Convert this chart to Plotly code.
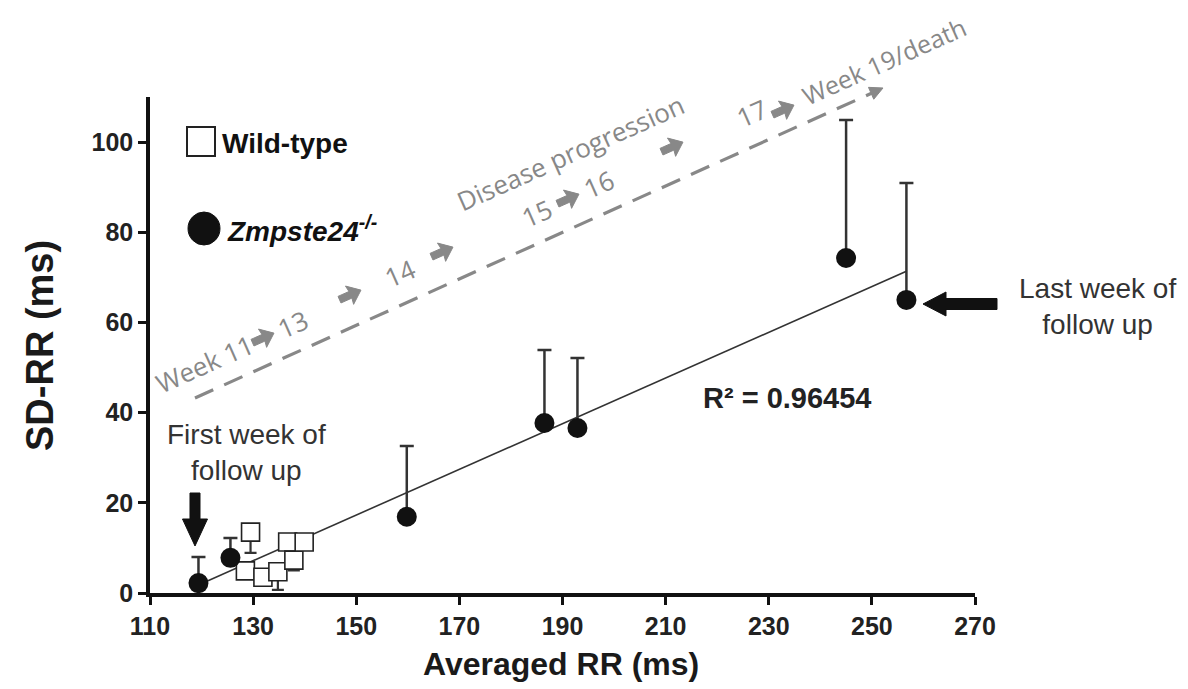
import math
import numpy as np
import plotly.graph_objects as go

# ---- data ----
zmp_rr = [119.4, 125.6, 159.8, 186.5, 192.9, 245.0, 256.7]
zmp_sd = [2.2, 7.8, 16.9, 37.7, 36.6, 74.3, 65.0]
zmp_err_up = [5.8, 4.4, 15.7, 16.2, 15.5, 30.6, 25.9]

wt_rr = [128.5, 129.5, 131.9, 134.8, 136.7, 137.9, 139.9]
wt_sd = [4.9, 13.5, 3.5, 4.7, 11.3, 7.3, 11.3]
wt_err_down = [0.0, 4.6, 0.0, 4.0, 0.0, 2.3, 0.0]

x_ticks = [110, 130, 150, 170, 190, 210, 230, 250, 270]
y_ticks = [0, 20, 40, 60, 80, 100]
r2_label = "R² = 0.96454"

# ---- layout geometry (screen pixels; the page has an 8px body margin) ----
W, H = 1188, 689
OFF = 8
PL, PT, PR, PB = 150, 97, 975, 593      # plot-area edges on screen
PW, PH = PR - PL, PB - PT
ML, MT = PL - OFF, PT - OFF
MR, MB = W - ML - PW, H - MT - PH


def px(x):
    return (x - PL) / PW


def py(y):
    return (PB - y) / PH


def poly(points):
    return "M " + " L ".join(f"{px(a):.5f},{py(b):.5f}" for a, b in points) + " Z"


fig = go.Figure()

# regression line from the data
slope, intercept = np.polyfit(zmp_rr, zmp_sd, 1)
fx = np.array([min(zmp_rr), max(zmp_rr)])
fig.add_trace(go.Scatter(x=fx, y=slope * fx + intercept, mode="lines",
                         line=dict(color="#333333", width=1.6),
                         hoverinfo="skip", showlegend=False))

fig.add_trace(go.Scatter(
    x=wt_rr, y=wt_sd, mode="markers", name="Wild-type",
    marker=dict(symbol="square", size=18, color="white",
                line=dict(color="#222222", width=1.6)),
    error_y=dict(type="data", symmetric=False, array=[0] * len(wt_rr),
                 arrayminus=wt_err_down, color="#333333", thickness=2.2, width=6),
    showlegend=False))

fig.add_trace(go.Scatter(
    x=zmp_rr, y=zmp_sd, mode="markers", name="Zmpste24-/-",
    marker=dict(symbol="circle", size=20, color="#111111"),
    error_y=dict(type="data", symmetric=False, array=zmp_err_up,
                 arrayminus=[0] * len(zmp_rr), color="#333333", thickness=2.5, width=7),
    showlegend=False))

shapes = []
annotations = []

# legend markers
shapes.append(dict(type="rect", xref="paper", yref="paper",
                   x0=px(187), x1=px(215), y0=py(156), y1=py(127),
                   line=dict(color="#222222", width=2), fillcolor="white"))
shapes.append(dict(type="circle", xref="paper", yref="paper",
                   x0=px(188), x1=px(220), y0=py(245), y1=py(212),
                   line=dict(color="#111111", width=1), fillcolor="#111111"))
annotations.append(dict(xref="paper", yref="paper", x=px(220), y=py(143),
                        xanchor="left", yanchor="middle", showarrow=False,
                        text="<b>Wild-type</b>",
                        font=dict(family="Liberation Sans, Arial", size=28, color="#111111")))
annotations.append(dict(xref="paper", yref="paper", x=px(225), y=py(229),
                        xanchor="left", yanchor="middle", showarrow=False,
                        text="<b><i>Zmpste24</i></b><sup><b><i>-/-</i></b></sup>",
                        font=dict(family="Liberation Sans, Arial", size=28, color="#111111")))

# dashed disease-progression arrow
ANG = 24.0
ca, sa = math.cos(math.radians(ANG)), math.sin(math.radians(ANG))
gray = "#888888"
shapes.append(dict(type="line", xref="paper", yref="paper",
                   x0=px(195), y0=py(398), x1=px(872), y1=py(93),
                   line=dict(color=gray, width=3.2, dash="20px,12px")))


def rotated(cx, cy, pts):
    return [(cx + u * ca + v * sa, cy - u * sa + v * ca) for u, v in pts]


# arrow head of the dashed line (tip at 883, 88)
head = [(0, 0), (-13, -6.5), (-13, 6.5)]
shapes.append(dict(type="path", xref="paper", yref="paper",
                   path=poly(rotated(883, 88, head)),
                   fillcolor=gray, line=dict(color=gray, width=1)))

# gray progression labels (rotated)
gtexts = [
    ("Week 11", 204, 364, 26),
    ("13", 293, 324, 26),
    ("14", 400, 273, 26),
    ("Disease progression", 570, 153, 26),
    ("15", 537, 213, 26),
    ("16", 599, 184, 26),
    ("17", 752, 113, 26),
    ("Week 19/death", 884, 61, 25),
]
for t, cx, cy, fs in gtexts:
    annotations.append(dict(xref="paper", yref="paper", x=px(cx), y=py(cy),
                            xanchor="center", yanchor="middle", showarrow=False,
                            text=t, textangle=-ANG,
                            font=dict(family="Open Sans, DejaVu Sans", size=fs, color=gray)))

# heavy gray arrows along the progression direction
arrow_centres = [(263, 338), (350, 295), (442, 252), (568, 199), (672, 147), (783, 110)]
local = [(-11.5, -3.6), (0.5, -3.6), (-0.5, -10), (12, 0), (-0.5, 10), (0.5, 3.6),
         (-11.5, 3.6)]
for cx, cy in arrow_centres:
    shapes.append(dict(type="path", xref="paper", yref="paper",
                       path=poly(rotated(cx, cy, local)),
                       fillcolor=gray, line=dict(color=gray, width=1)))

# black arrows (filled polygons)
down_arrow = [(190, 493), (200, 493), (200, 519), (207.5, 519), (195, 546),
              (182.5, 519), (190, 519)]
left_arrow = [(997, 298.5), (997, 309.5), (946, 309.5), (946, 316), (923, 304),
              (946, 292), (946, 298.5)]
for pts in (down_arrow, left_arrow):
    shapes.append(dict(type="path", xref="paper", yref="paper", path=poly(pts),
                       fillcolor="#111111", line=dict(color="#111111", width=1)))

note_font = dict(family="Liberation Sans, Arial", size=28, color="#333333")
annotations.append(dict(xref="paper", yref="paper", x=px(246), y=py(452),
                        xanchor="center", yanchor="middle", showarrow=False,
                        text="First week of<br>follow up", font=note_font))
annotations.append(dict(xref="paper", yref="paper", x=px(1097), y=py(306),
                        xanchor="center", yanchor="middle", showarrow=False,
                        text="Last week of<br>follow up", font=note_font))
annotations.append(dict(xref="paper", yref="paper", x=px(787), y=py(398),
                        xanchor="center", yanchor="middle", showarrow=False,
                        text="<b>" + r2_label + "</b>",
                        font=dict(family="Liberation Sans, Arial", size=29, color="#222222")))

# axis titles
annotations.append(dict(xref="paper", yref="paper", x=px(561), y=py(664),
                        xanchor="center", yanchor="middle", showarrow=False,
                        text="<b>Averaged RR (ms)</b>",
                        font=dict(family="Liberation Sans, Arial", size=32, color="#1a1a1a")))
annotations.append(dict(xref="paper", yref="paper", x=px(40), y=py(346),
                        xanchor="center", yanchor="middle", showarrow=False,
                        textangle=-90, text="<b>SD-RR (ms)</b>",
                        font=dict(family="Liberation Sans, Arial", size=38, color="#1a1a1a")))

tickfont = dict(family="Liberation Sans, Arial", size=25, color="#222222", weight="bold")
fig.update_layout(
    width=W, height=H,
    margin=dict(l=ML, r=MR, t=MT, b=MB),
    paper_bgcolor="white", plot_bgcolor="white",
    shapes=shapes, annotations=annotations,
    xaxis=dict(range=[110, 270], tickvals=x_ticks, ticktext=[str(v) for v in x_ticks],
               showgrid=False, zeroline=False, showline=True, linecolor="#111111",
               linewidth=3.5, ticks="outside", ticklen=8, tickwidth=3, tickcolor="#111111",
               tickfont=tickfont, fixedrange=True),
    yaxis=dict(range=[0, 110], tickvals=y_ticks, ticktext=[str(v) for v in y_ticks],
               showgrid=False, zeroline=False, showline=True, linecolor="#111111",
               linewidth=3.5, ticks="outside", ticklen=8, tickwidth=3, tickcolor="#111111",
               tickfont=tickfont, fixedrange=True),
    showlegend=False,
)

fig.write_html("out.html")
